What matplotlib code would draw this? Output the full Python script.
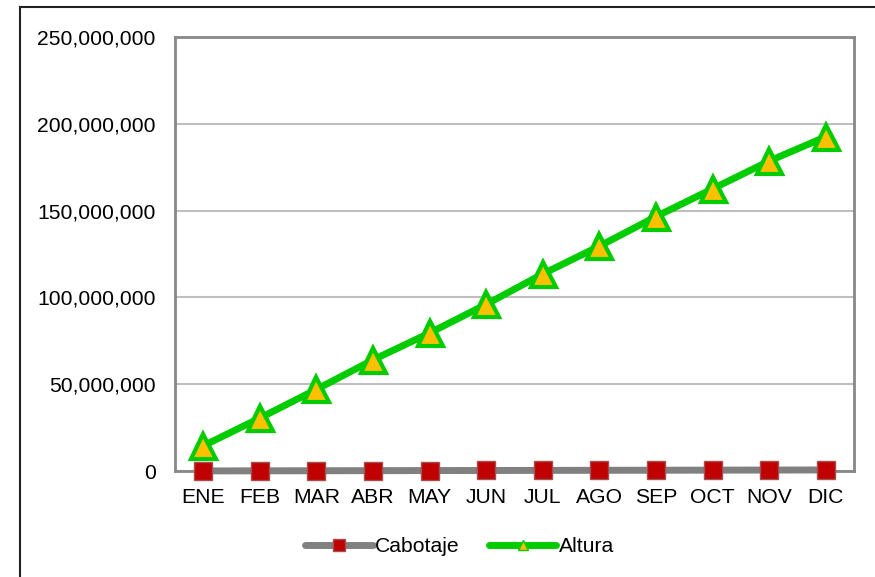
import matplotlib.pyplot as plt
from matplotlib.lines import Line2D
from matplotlib.ticker import FuncFormatter, MultipleLocator

meses = ["ENE", "FEB", "MAR", "ABR", "MAY", "JUN", "JUL", "AGO", "SEP", "OCT", "NOV", "DIC"]
cabotaje = [0.05e6, 0.1e6, 0.15e6, 0.2e6, 0.25e6, 0.3e6, 0.35e6, 0.4e6, 0.45e6, 0.5e6, 0.55e6, 0.6e6]
altura = [14.5e6, 30.5e6, 47e6, 64e6, 79.5e6, 96e6, 113.5e6, 129.5e6, 146.5e6, 162.5e6, 178.5e6, 192.5e6]

plt.rcParams['font.family'] = ['Liberation Sans', 'DejaVu Sans']

fig = plt.figure(figsize=(8.75, 5.77), dpi=100)
fig.patch.set_facecolor('w')
ax = fig.add_axes([0.2, 0.1837, 0.776, 0.7523])

x = range(len(meses))
ax.plot(x, cabotaje, color='#808080', lw=5, marker='s', ms=13,
        mfc='#C00000', mec='#A05050', mew=1, zorder=3, clip_on=False)
ax.plot(x, altura, color='#00CC00', lw=5, marker='^', ms=18,
        mfc='#FFC000', mec='#00CC00', mew=3, zorder=4, clip_on=False)

ax.set_xlim(-0.5, len(meses) - 0.5)
ax.set_ylim(0, 250e6)
ax.yaxis.set_major_locator(MultipleLocator(50e6))
ax.yaxis.set_major_formatter(FuncFormatter(lambda v, p: f"{v:,.0f}"))
ax.set_xticks(list(x))
ax.set_xticklabels(meses)
ax.tick_params(axis='both', length=0, labelsize=15.2, colors='black')
ax.tick_params(axis='x', pad=12)
ax.tick_params(axis='y', pad=14)
ax.grid(axis='y', color='#BFBFBF', lw=1.5)
ax.set_axisbelow(True)
for s in ax.spines.values():
    s.set_color('#888888')
    s.set_linewidth(2)

handles = [
    Line2D([], [], color='#808080', lw=5, marker='s', ms=9, mfc='#C00000', mec='#A05050',
           solid_capstyle='round'),
    Line2D([], [], color='#00CC00', lw=5, marker='^', ms=7, mfc='#FFC000', mec='#00CC00',
           solid_capstyle='round'),
]
fig.legend(handles, ["Cabotaje", "Altura"], loc='center', bbox_to_anchor=(0.525, 0.053),
           ncol=2, frameon=False, fontsize=15.2, handlelength=3.2, handletextpad=0.1,
           columnspacing=1.4)

# outer chart frame (left and top edges visible)
fig.add_artist(Line2D([0.023, 0.023], [0, 0.988], color='#222222', lw=1.5))
fig.add_artist(Line2D([0.023, 1.0], [0.988, 0.988], color='#222222', lw=1.5))

fig.savefig("out.png", dpi=100)
